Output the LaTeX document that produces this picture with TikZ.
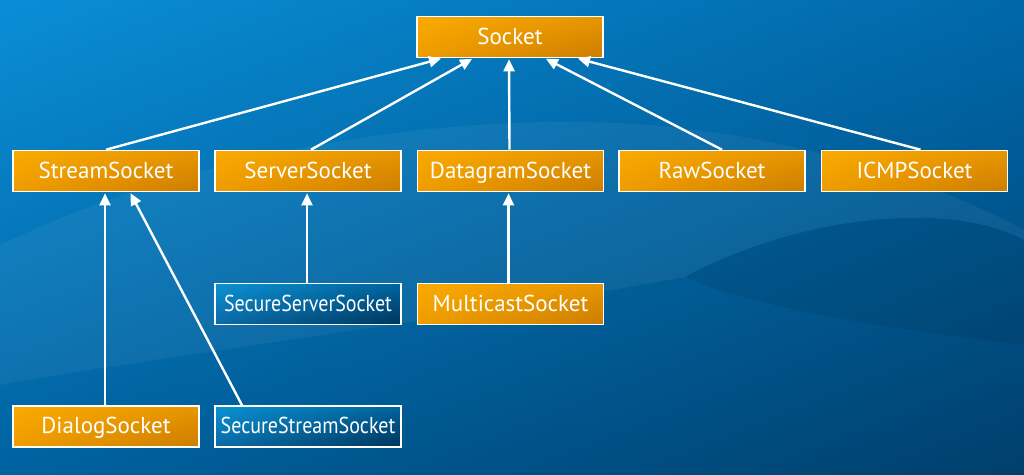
\documentclass[tikz,border=0pt]{standalone}
\usepackage{fontspec}
\setmainfont{PT Sans}
\usetikzlibrary{arrows.meta,shadings}
\definecolor{bgUL}{HTML}{0A8ED6}
\definecolor{bgUR}{HTML}{0068AA}
\definecolor{bgLL}{HTML}{0062A0}
\definecolor{bgLR}{HTML}{003F6C}
\definecolor{orUL}{HTML}{FAAA00}
\definecolor{orUR}{HTML}{E89600}
\definecolor{orLL}{HTML}{EE9C00}
\definecolor{orLR}{HTML}{CC7D00}
\definecolor{blUL}{HTML}{0A92D2}
\definecolor{blUR}{HTML}{00649E}
\definecolor{blLL}{HTML}{0A6AA6}
\definecolor{blLR}{HTML}{00355A}
\tikzset{
  cls/.style={draw=white, line width=1.6pt, minimum width=186pt, minimum height=41pt,
    inner sep=0pt, text height=16pt, text depth=2pt, text=white, font=\fontsize{23}{26}\selectfont},
  orangebox/.style={cls, upper left=orUL, upper right=orUR, lower left=orLL, lower right=orLR},
  bluebox/.style={cls, upper left=blUL, upper right=blUR, lower left=blLL, lower right=blLR},
  inherit/.style={draw=white, line width=2.4pt, -{Triangle[length=12pt,width=11pt]}, shorten >=1pt}
}
\begin{document}
\begin{tikzpicture}[x=1pt, y=-1pt]
  % background
  \shade[upper left=bgUL, upper right=bgUR, lower left=bgLL, lower right=bgLR] (0,0) rectangle (1024,474);
  \useasboundingbox (0,0) rectangle (1024,474);
  % background waves
  \fill[white, opacity=0.05] (0,245) .. controls (200,150) and (450,110) .. (650,125)
     .. controls (820,140) and (950,190) .. (1024,230) -- (1024,240)
     .. controls (950,200) and (800,215) .. (685,277)
     .. controls (450,320) and (200,350) .. (0,385) -- cycle;
  \fill[black, opacity=0.07] (685,277) .. controls (800,215) and (950,200) .. (1024,240)
     -- (1024,345) .. controls (900,330) and (760,310) .. (685,277) -- cycle;

  % nodes
  \node[orangebox] (socket)   at (510,37)    {Socket};
  \node[orangebox] (stream)   at (106,171)   {StreamSocket};
  \node[orangebox] (server)   at (308,171)   {ServerSocket};
  \node[orangebox] (datagram) at (510.5,171) {DatagramSocket};
  \node[orangebox] (raw)      at (712,171)   {RawSocket};
  \node[orangebox] (icmp)     at (914.5,171) {ICMPSocket};
  \node[bluebox]   (secserver) at (308,304)  {\scalebox{0.87}[1]{SecureServerSocket}};
  \node[orangebox] (multicast) at (510.5,304) {MulticastSocket};
  \node[orangebox] (dialog)   at (106,426.5) {DialogSocket};
  \node[bluebox]   (secstream) at (308,426.5) {\scalebox{0.87}[1]{SecureStreamSocket}};

  % inheritance arrows
  \draw[inherit] (stream.north) -- ([xshift=-68pt]socket.south);
  \draw[inherit] ([xshift=3pt]server.north) -- ([xshift=-37pt]socket.south);
  \draw[inherit] ([xshift=-1pt]datagram.north) -- ([xshift=-1pt]socket.south);
  \draw[inherit] ([xshift=10pt]raw.north) -- ([xshift=35pt]socket.south);
  \draw[inherit] ([xshift=6pt]icmp.north) -- ([xshift=67pt]socket.south);
  \draw[inherit] ([xshift=-1pt]dialog.north) -- ([xshift=-1pt]stream.south);
  \draw[inherit] ([xshift=-66pt]secstream.north) -- ([xshift=24pt]stream.south);
  \draw[inherit] ([xshift=-1pt]secserver.north) -- ([xshift=-1pt]server.south);
  \draw[inherit] ([xshift=-2pt]multicast.north) -- ([xshift=-2pt]datagram.south);
\end{tikzpicture}
\end{document}
